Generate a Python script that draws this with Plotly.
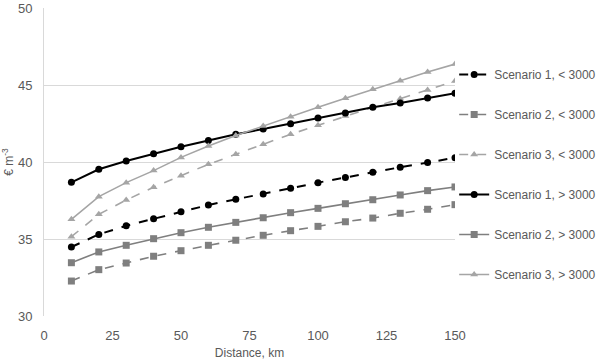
import plotly.graph_objects as go

distance = [10, 20, 30, 40, 50, 60, 70, 80, 90, 100, 110, 120, 130, 140, 150]

s1_lt = [34.48, 35.30, 35.86, 36.32, 36.77, 37.21, 37.58, 37.92, 38.29, 38.66, 39.00, 39.33, 39.66, 39.96, 40.28]
s2_lt = [32.27, 33.01, 33.44, 33.88, 34.24, 34.59, 34.92, 35.24, 35.54, 35.82, 36.12, 36.36, 36.67, 36.93, 37.23]
s3_lt = [35.15, 36.60, 37.53, 38.36, 39.11, 39.85, 40.50, 41.15, 41.80, 42.38, 42.99, 43.55, 44.11, 44.68, 45.26]
s1_gt = [38.68, 39.53, 40.06, 40.54, 40.99, 41.40, 41.80, 42.14, 42.49, 42.86, 43.18, 43.55, 43.83, 44.16, 44.46]
s2_gt = [33.46, 34.16, 34.59, 35.02, 35.41, 35.76, 36.08, 36.38, 36.71, 36.99, 37.29, 37.55, 37.86, 38.14, 38.38]
s3_gt = [36.28, 37.75, 38.66, 39.44, 40.30, 41.04, 41.72, 42.34, 42.94, 43.55, 44.14, 44.72, 45.28, 45.84, 46.36]

names = ["Scenario 1, < 3000", "Scenario 2, < 3000", "Scenario 3, < 3000",
         "Scenario 1, > 3000", "Scenario 2, > 3000", "Scenario 3, > 3000"]
series = [s1_lt, s2_lt, s3_lt, s1_gt, s2_gt, s3_gt]
colors = ["#000000", "#7f7f7f", "#a5a5a5", "#000000", "#7f7f7f", "#a5a5a5"]
symbols = ["circle", "square", "triangle-up", "circle", "square", "triangle-up"]
dashes = ["dash", "dash", "dash", "solid", "solid", "solid"]
widths = [2, 1.6, 1.6, 2, 1.6, 1.6]

fig = go.Figure()
for i, (n, ys) in enumerate(zip(names, series)):
    fig.add_trace(go.Scatter(
        x=distance, y=ys, name=n, mode="lines+markers",
        legendgroup=f"g{i}",
        line=dict(color=colors[i], width=widths[i], dash=dashes[i]),
        marker=dict(color=colors[i], symbol=symbols[i], size=7),
    ))

font_color = "#595959"
fig.update_layout(
    width=600, height=360,
    margin=dict(l=44, r=145, t=8, b=44, pad=0, autoexpand=False),
    paper_bgcolor="white", plot_bgcolor="white",
    font=dict(family="Liberation Sans, Arial, sans-serif", size=12, color=font_color),
    legend=dict(x=0.998, xanchor="left", y=1 - 52 / 308, yanchor="top",
                tracegroupgap=21, traceorder="grouped",
                font=dict(size=12, color=font_color), itemwidth=30,
                bgcolor="rgba(0,0,0,0)"),
    xaxis=dict(range=[0, 150], tickvals=[0, 25, 50, 75, 100, 125, 150],
               showgrid=False, zeroline=False, showline=False,
               ticks="", tickfont=dict(size=13, color=font_color),
               ticklabelstandoff=10, automargin=False,
               title=dict(text="Distance, km", standoff=6,
                          font=dict(size=12, color=font_color))),
    yaxis=dict(range=[30, 50], tickvals=[30, 35, 40, 45, 50],
               showgrid=True, gridcolor="#d9d9d9", gridwidth=1,
               zeroline=False, showline=True, linecolor="#d9d9d9", linewidth=1,
               ticks="", ticklabelstandoff=8, automargin=False,
               tickfont=dict(size=13, color=font_color),
               title=dict(text="€ m<sup>-3</sup>", standoff=8,
                          font=dict(size=12, color=font_color))),
)

fig.write_html("out.html", config={"displayModeBar": False},
               post_script="document.body.style.margin='0';")
